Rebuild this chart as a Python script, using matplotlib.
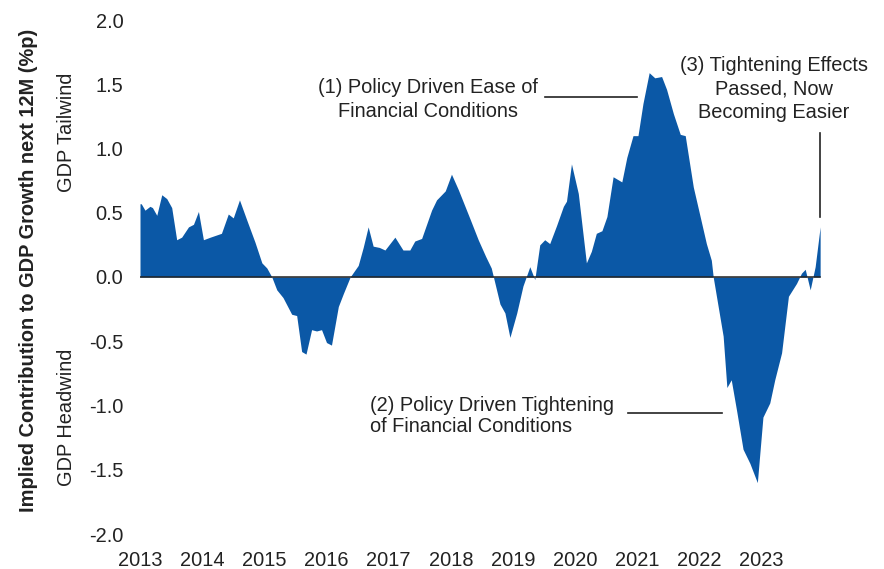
import matplotlib
matplotlib.use("Agg")
import matplotlib.pyplot as plt

plt.rcParams['font.family'] = ['Liberation Sans', 'DejaVu Sans']

# fecha (fraccion de año) y contribucion al crecimiento del PIB (%p)
fecha = [2013.00, 2013.02, 2013.08, 2013.16, 2013.20, 2013.27, 2013.35, 2013.43, 2013.51,
         2013.59, 2013.67, 2013.78, 2013.86, 2013.94, 2014.02, 2014.13, 2014.31, 2014.42,
         2014.50, 2014.60, 2014.72, 2014.85, 2014.96, 2015.04, 2015.12, 2015.20, 2015.30,
         2015.44, 2015.52, 2015.60, 2015.67, 2015.76, 2015.84, 2015.92, 2016.00, 2016.08,
         2016.19, 2016.27, 2016.38, 2016.51, 2016.59, 2016.67, 2016.75, 2016.85, 2016.94,
         2017.10, 2017.23, 2017.34, 2017.42, 2017.53, 2017.69, 2017.77, 2017.91, 2018.01,
         2018.12, 2018.31, 2018.44, 2018.56, 2018.65, 2018.72, 2018.79, 2018.87, 2018.95,
         2019.06, 2019.16, 2019.27, 2019.35, 2019.43, 2019.51, 2019.59, 2019.70, 2019.81,
         2019.86, 2019.94, 2020.05, 2020.18, 2020.26, 2020.34, 2020.43, 2020.51, 2020.61,
         2020.75, 2020.83, 2020.93, 2021.01, 2021.09, 2021.19, 2021.28, 2021.39, 2021.47,
         2021.58, 2021.69, 2021.77, 2021.90, 2022.01, 2022.11, 2022.19, 2022.22, 2022.30,
         2022.38, 2022.44, 2022.51, 2022.60, 2022.70, 2022.81, 2022.93, 2023.02, 2023.13,
         2023.21, 2023.32, 2023.43, 2023.56, 2023.64, 2023.70, 2023.78, 2023.86, 2023.94]
valor = [0.57, 0.57, 0.52, 0.55, 0.54, 0.48, 0.64, 0.61, 0.54,
         0.29, 0.31, 0.39, 0.41, 0.51, 0.29, 0.31, 0.34, 0.49,
         0.46, 0.60, 0.44, 0.27, 0.11, 0.07, 0.00, -0.10, -0.16,
         -0.29, -0.30, -0.58, -0.60, -0.41, -0.42, -0.41, -0.51, -0.53,
         -0.23, -0.13, 0.00, 0.09, 0.23, 0.39, 0.24, 0.23, 0.21,
         0.31, 0.21, 0.21, 0.28, 0.30, 0.52, 0.60, 0.67, 0.80,
         0.68, 0.45, 0.29, 0.16, 0.07, -0.07, -0.21, -0.28, -0.47,
         -0.28, -0.07, 0.08, -0.02, 0.25, 0.29, 0.26, 0.40, 0.55,
         0.59, 0.88, 0.65, 0.11, 0.20, 0.34, 0.36, 0.47, 0.78,
         0.74, 0.93, 1.10, 1.10, 1.35, 1.59, 1.55, 1.56, 1.46,
         1.27, 1.11, 1.10, 0.70, 0.47, 0.26, 0.13, 0.00, -0.23,
         -0.46, -0.86, -0.80, -1.05, -1.34, -1.45, -1.60, -1.09, -0.98,
         -0.80, -0.59, -0.15, -0.05, 0.03, 0.06, -0.10, 0.08, 0.39]

anios = list(range(2013, 2024))
yticks = [-2.0, -1.5, -1.0, -0.5, 0.0, 0.5, 1.0, 1.5, 2.0]

azul = '#0b58a6'
gris = '#222222'
fs = 14.4

fig = plt.figure(figsize=(8.84, 5.69), dpi=100)
ax = fig.add_axes([140 / 884, 35 / 569, 682 / 884, 514 / 569])

ax.fill_between(fecha, valor, 0, color=azul, lw=0)
ax.plot([fecha[0], fecha[-1]], [0, 0], color=gris, lw=1.1)

ax.set_xlim(2013, 2023.97)
ax.set_ylim(-2, 2)
ax.set_xticks(anios)
ax.set_xticklabels([str(a) for a in anios])
ax.set_yticks(yticks)
ax.set_yticklabels([f"{t:.1f}" for t in yticks])
ax.tick_params(length=0, labelsize=fs, colors=gris)
ax.tick_params(axis='y', pad=12)
ax.tick_params(axis='x', pad=12)
for s in ax.spines.values():
    s.set_visible(False)

# etiquetas del eje y
fig.text(29 / 884, 1 - 270 / 569, "Implied Contribution to GDP Growth next 12M (%p)",
         rotation=90, ha='center', va='center', fontsize=fs, fontweight='bold', color=gris)
fig.text(67 / 884, 1 - 132 / 569, "GDP Tailwind", rotation=90, ha='center', va='center',
         fontsize=fs, color=gris)
fig.text(67 / 884, 1 - 417 / 569, "GDP Headwind", rotation=90, ha='center', va='center',
         fontsize=fs, color=gris)

# anotaciones
ax.text(2017.63, 1.38, "(1) Policy Driven Ease of\nFinancial Conditions", ha='center',
        va='center', fontsize=fs, color=gris, linespacing=1.3)
ax.plot([2019.51, 2020.99], [1.40, 1.40], color=gris, lw=1.2)

ax.text(2016.70, -1.08, "(2) Policy Driven Tightening\nof Financial Conditions", ha='left',
        va='center', fontsize=fs, color=gris, linespacing=1.15)
ax.plot([2020.85, 2022.36], [-1.06, -1.06], color=gris, lw=1.2)

ax.text(2023.20, 1.46, "(3) Tightening Effects\nPassed, Now\nBecoming Easier", ha='center',
        va='center', fontsize=fs, color=gris, linespacing=1.3)
ax.plot([2023.94, 2023.94], [1.12, 0.47], color=gris, lw=1.2)

fig.savefig("out.png", dpi=100)
